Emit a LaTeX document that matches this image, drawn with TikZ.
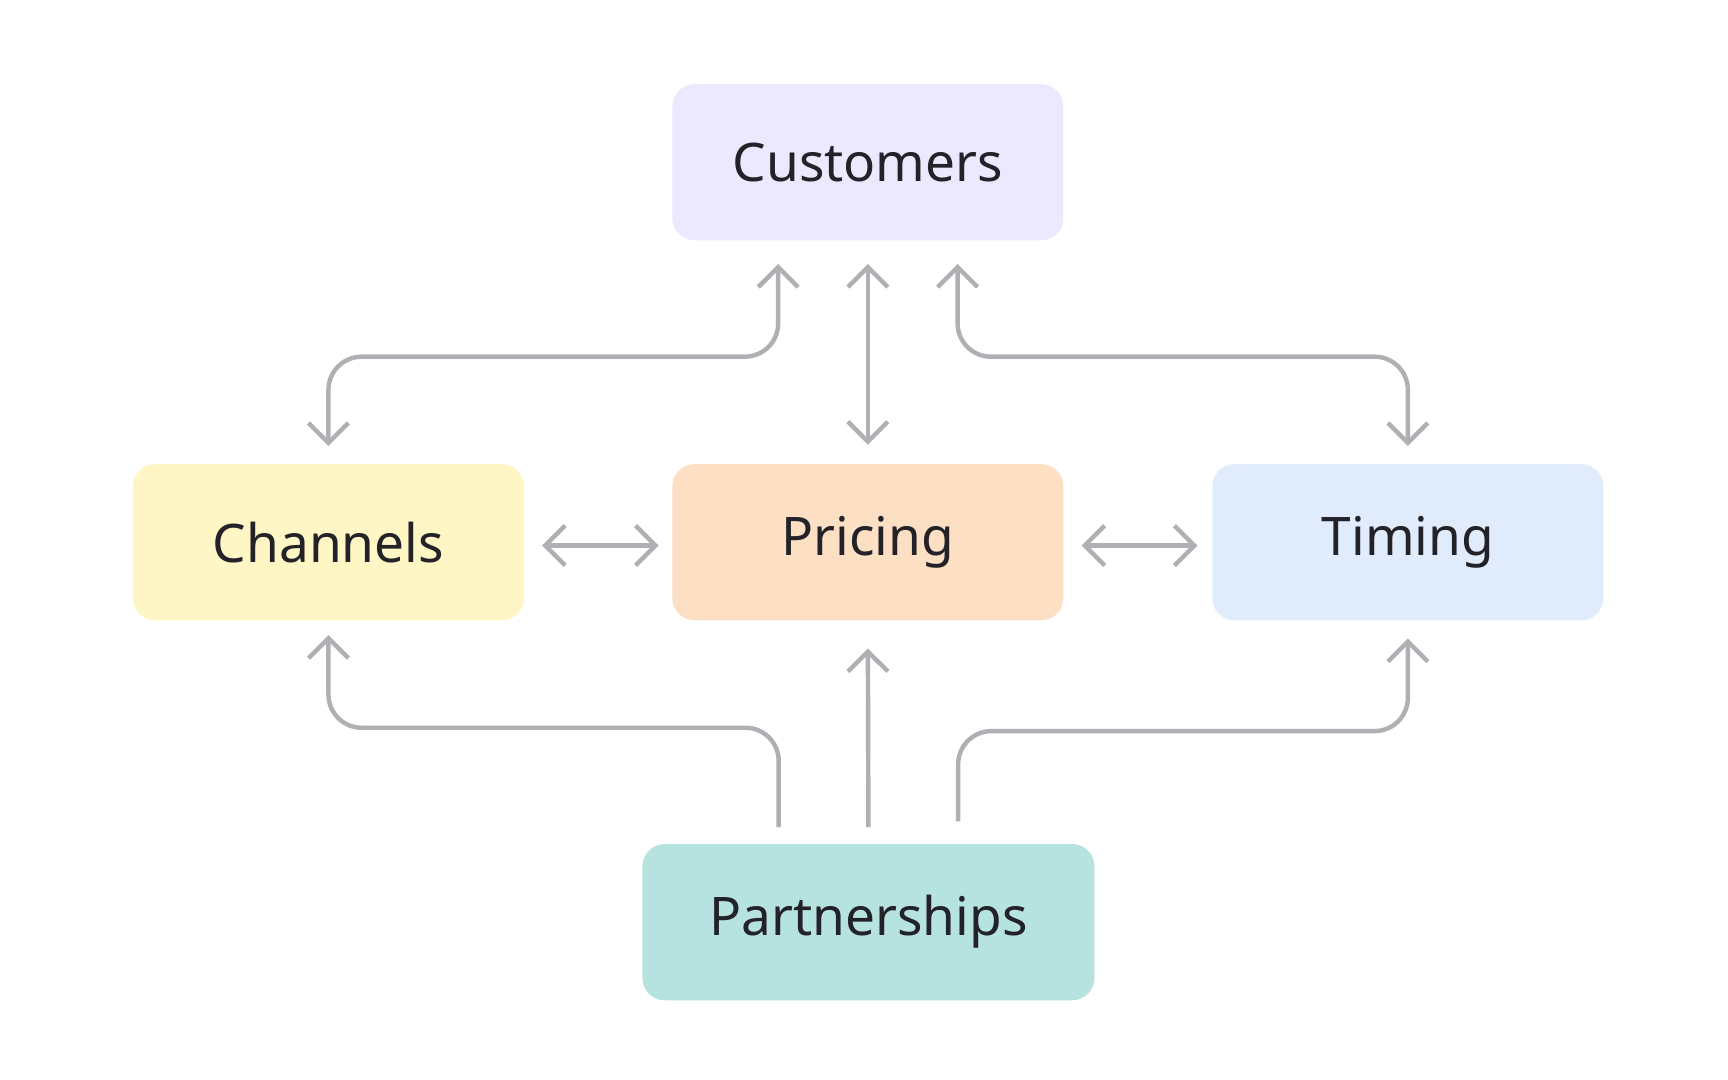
\documentclass[tikz,border=0pt]{standalone}
\usepackage{fontspec}
\setmainfont{Noto Sans}
\usetikzlibrary{arrows.meta,calc}
\definecolor{linkgray}{HTML}{B0B0B4}
\definecolor{inkdark}{HTML}{222228}
\definecolor{custfill}{HTML}{ECE8FD}
\definecolor{chanfill}{HTML}{FEF6C5}
\definecolor{pricefill}{HTML}{FDDFC4}
\definecolor{timefill}{HTML}{E0ECFC}
\definecolor{partfill}{HTML}{B6E2E0}
\tikzset{
  block/.style={rounded corners=10pt,minimum width=176.5pt,minimum height=70.5pt,
    inner sep=0pt,text=inkdark,font=\fontsize{24}{28}\selectfont},
  link/.style={draw=linkgray,line width=2pt,rounded corners=15pt,
    arrows={-Straight Barb[length=9pt,width=18pt,line width=2pt]}},
  biLink/.style={link,arrows={Straight Barb[length=9pt,width=18pt,line width=2pt]-Straight Barb[length=9pt,width=18pt,line width=2pt]}}
}
\begin{document}
\begin{tikzpicture}[x=0.5pt,y=-0.5pt]
\useasboundingbox (0,0) rectangle (1560,975);
% boxes
\node[block,fill=custfill,font=\fontsize{24}{28}\selectfont\bfseries] (cust) at (783.5,146.5) {Customers};
\node[block,fill=chanfill] (chan) at (296.5,489.5) {Channels};
\node[block,fill=pricefill] (price) at (783.5,489.5) {Pricing};
\node[block,fill=timefill] (time) at (1271,489.5) {Timing};
\node[block,fill=partfill,minimum width=204pt] (part) at (784,832.5) {Partnerships};
% end points
\coordinate (cL) at ($(cust.south)+(-81,21)$);
\coordinate (cM) at ($(cust.south)+(0,21)$);
\coordinate (cR) at ($(cust.south)+(81,21)$);
\coordinate (chT) at ($(chan.north)+(0,-16)$);
\coordinate (prT) at ($(price.north)+(0,-17)$);
\coordinate (tiT) at ($(time.north)+(0,-16)$);
\coordinate (chB) at ($(chan.south)+(0,13)$);
\coordinate (prB) at ($(price.south)+(0,25)$);
\coordinate (tiB) at ($(time.south)+(0,16)$);
\coordinate (pL) at ($(part.north)+(-81,-15)$);
\coordinate (pM) at ($(part.north)+(0,-15)$);
\coordinate (pR) at ($(part.north)+(81,-20)$);
% links to customers
\draw[biLink] (chT) -- (chT|-0,322) -- (cL|-0,322) -- (cL);
\draw[biLink] (prT) -- (cM);
\draw[biLink] (tiT) -- (tiT|-0,322) -- (cR|-0,322) -- (cR);
% middle row
\draw[biLink] ($(chan.east)+(16,3)$) coordinate (chE) -- ($(price.west)+(-12,3)$) coordinate (prW);
\draw[biLink] ($(price.east)+(16,3)$) coordinate (prE) -- ($(time.west)+(-13,3)$) coordinate (tiW);
% links from partnerships
\draw[link] (pL) -- (pL|-0,657) -- (chB|-0,657) -- (chB);
\draw[link] (pM) -- (prB);
\draw[link] (pR) -- (pR|-0,660) -- (tiB|-0,660) -- (tiB);
\end{tikzpicture}
\end{document}
